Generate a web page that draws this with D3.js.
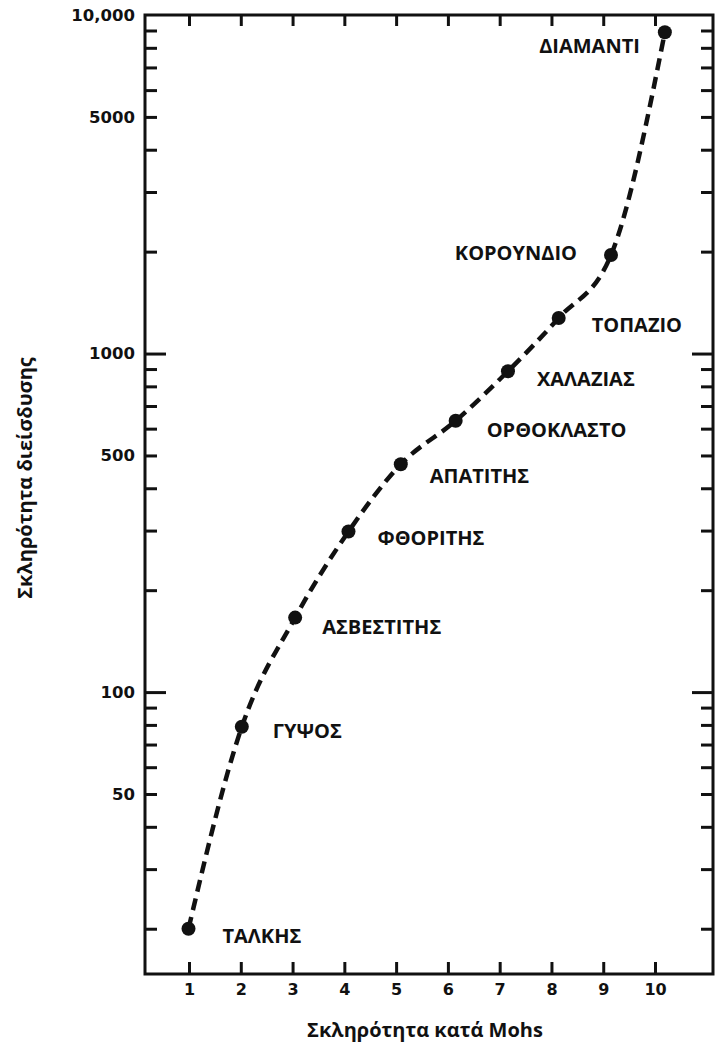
<!DOCTYPE html>
<html>
<head>
<meta charset="utf-8">
<script src="https://cdn.jsdelivr.net/npm/d3@7"></script>
<style>
  html, body { margin: 0; padding: 0; background: #fff; }
  svg { display: block; }
</style>
</head>
<body>
<script>
// ---- data ----
const minerals = ["ΤΑΛΚΗΣ", "ΓΥΨΟΣ", "ΑΣΒΕΣΤΙΤΗΣ", "ΦΘΟΡΙΤΗΣ", "ΑΠΑΤΙΤΗΣ", "ΟΡΘΟΚΛΑΣΤΟ", "ΧΑΛΑΖΙΑΣ", "ΤΟΠΑΖΙΟ", "ΚΟΡΟΥΝΔΙΟ", "ΔΙΑΜΑΝΤΙ"];
const mohs = [0.99, 2.02, 3.05, 4.08, 5.09, 6.15, 7.16, 8.14, 9.15, 10.19];
const indentation = [20, 79, 166, 298, 471, 633, 887, 1274, 1954, 8890];
const xTicks = [1, 2, 3, 4, 5, 6, 7, 8, 9, 10];
const yLabelTicks = [10000, 5000, 1000, 500, 100, 50];
const yLabelText = ["10,000", "5000", "1000", "500", "100", "50"];
const yMajorTicks = [1000, 100];
const yMinorTicks = [9000, 8000, 7000, 6000, 5000, 4000, 3000, 2000,
                     900, 800, 700, 600, 500, 400, 300, 200,
                     90, 80, 70, 60, 50, 40, 30, 20];
const xTitle = "Σκληρότητα κατά Mohs";
const yTitle = "Σκληρότητα διείσδυσης";

// ---- layout ----
const W = 718, H = 1045;
const L = 145, R = 713, T = 15, B = 974;
const svg = d3.select("body").append("svg").attr("width", W).attr("height", H);

const x = d3.scaleLinear().domain([0.15, 11.12]).range([L, R]);
const y = d3.scaleLog().domain([14.7, 10000]).range([B, T]);

const ink = "#111";
const tickFont = "'DejaVu Sans', sans-serif";
const textFont = "'Open Sans', sans-serif";

// frame
svg.append("rect").attr("x", L).attr("y", T).attr("width", R - L).attr("height", B - T)
  .attr("fill", "none").attr("stroke", ink).attr("stroke-width", 3);

function styleAxis(g) {
  g.select(".domain").remove();
  g.selectAll(".tick line").attr("stroke", ink).attr("stroke-width", 3);
}

// left minor ticks
svg.append("g").attr("transform", `translate(${L},0)`)
  .call(d3.axisLeft(y).tickValues(yMinorTicks).tickSize(-12).tickFormat(""))
  .call(styleAxis);
// left major ticks
svg.append("g").attr("transform", `translate(${L},0)`)
  .call(d3.axisLeft(y).tickValues(yMajorTicks).tickSize(-21).tickFormat(""))
  .call(styleAxis);
// right minor & major ticks
svg.append("g").attr("transform", `translate(${R},0)`)
  .call(d3.axisRight(y).tickValues(yMinorTicks).tickSize(-12).tickFormat(""))
  .call(styleAxis);
svg.append("g").attr("transform", `translate(${R},0)`)
  .call(d3.axisRight(y).tickValues(yMajorTicks).tickSize(-21).tickFormat(""))
  .call(styleAxis);

// left labels
const yl = svg.append("g").attr("transform", `translate(${L},0)`)
  .call(d3.axisLeft(y).tickValues(yLabelTicks).tickSize(0).tickPadding(10)
    .tickFormat((d, i) => yLabelText[i]))
  .call(styleAxis);
yl.selectAll("text").attr("font-family", tickFont).attr("font-weight", "bold")
  .attr("font-size", 16.5).attr("fill", ink);

// bottom ticks + labels
const xb = svg.append("g").attr("transform", `translate(0,${B})`)
  .call(d3.axisBottom(x).tickValues(xTicks).tickSizeInner(-12).tickPadding(10).tickFormat(d3.format("d")))
  .call(styleAxis);
xb.selectAll("text").attr("font-family", tickFont).attr("font-weight", "bold")
  .attr("font-size", 16).attr("fill", ink);
// top ticks
svg.append("g").attr("transform", `translate(0,${T})`)
  .call(d3.axisTop(x).tickValues(xTicks).tickSize(-11).tickFormat(""))
  .call(styleAxis);

// curve
const pts = mohs.map((m, i) => [x(m), y(indentation[i])]);
svg.append("path")
  .attr("d", d3.line().curve(d3.curveMonotoneX)(pts))
  .attr("fill", "none").attr("stroke", ink).attr("stroke-width", 4.5)
  .attr("stroke-dasharray", "12,7");

svg.selectAll("circle.pt").data(mohs).join("circle").attr("class", "pt")
  .attr("cx", d => x(d)).attr("cy", (d, i) => y(indentation[i])).attr("r", 7)
  .attr("fill", ink);

// mineral labels: offsets from their point
const labelOffsets = [[34, 14, "start"], [31, 11, "start"], [27, 16, "start"], [29, 13, "start"],
  [29, 19, "start"], [31, 16, "start"], [29, 15, "start"], [33, 14, "start"], [-34, 5, "end"], [-25, 21, "end"]];
svg.selectAll("text.lab").data(minerals).join("text").attr("class", "lab")
  .attr("x", (d, i) => x(mohs[i]) + labelOffsets[i][0])
  .attr("y", (d, i) => y(indentation[i]) + labelOffsets[i][1])
  .attr("text-anchor", (d, i) => labelOffsets[i][2])
  .attr("font-family", textFont).attr("font-weight", "bold").attr("font-size", 20)
  .attr("fill", ink).text(d => d);

// axis titles
svg.append("text").attr("x", 425).attr("y", 1037).attr("text-anchor", "middle")
  .attr("font-family", textFont).attr("font-weight", "bold").attr("font-size", 20)
  .attr("fill", ink).text(xTitle);
svg.append("text").attr("transform", "translate(32,478) rotate(-90)").attr("text-anchor", "middle")
  .attr("font-family", textFont).attr("font-weight", "bold").attr("font-size", 20)
  .attr("fill", ink).text(yTitle);
</script>
</body>
</html>
